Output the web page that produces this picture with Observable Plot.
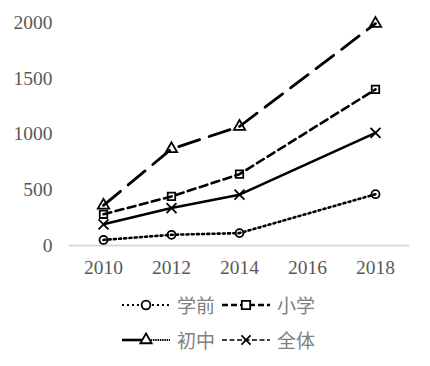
<!DOCTYPE html>
<html>
<head>
<meta charset="utf-8">
<script src="https://cdn.jsdelivr.net/npm/d3@7"></script>
<script src="https://cdn.jsdelivr.net/npm/@observablehq/plot@0.6"></script>
<style>
  body { margin: 0; background: #fff; width: 430px; height: 366px; overflow: hidden; }
  #legend { padding-left: 122px; padding-top: 2px; font-family: "Noto Sans CJK SC", sans-serif; font-size: 19px; color: #7f7f7f; }
  .row { display: flex; align-items: center; height: 35px; }
  .row svg { display: block; margin-right: 7px; }
  .row span { margin-right: 7px; line-height: 1; }
</style>
</head>
<body>
<div id="chart"></div>
<div id="legend"></div>
<script>
const years = [2010, 2012, 2014, 2018];
const xueqian = [50, 96, 111, 460];
const xiaoxue = [280, 440, 640, 1400];
const chuzhong = [360, 866, 1067, 1990];
const quanti = [190, 336, 456, 1010];
const seriesNames = ["学前", "小学", "初中", "全体"];
const xTicks = [2010, 2012, 2014, 2016, 2018];
const yTicks = [0, 500, 1000, 1500, 2000];

const seriesValues = [xueqian, xiaoxue, chuzhong, quanti];
const styles = {
  "学前": {dash: "2,3.2", width: 2.6, symbol: "circle", r: 4},
  "小学": {dash: "8,4.5", width: 2.6, symbol: "square", r: 4.2},
  "初中": {dash: "22,10", width: 2.8, symbol: "triangle", r: 4.2},
  "全体": {dash: null, width: 2.6, symbol: "times", r: 4.6}
};
const data = [];
seriesNames.forEach((name, i) => {
  years.forEach((yr, j) => data.push({series: name, year: yr, value: seriesValues[i][j]}));
});

const marks = [
  Plot.ruleY([0], {stroke: "#d9d9d9", strokeWidth: 2, x1: 2009, x2: 2019}),
  Plot.axisY({ticks: yTicks, tickSize: 0, tickPadding: 17, tickFormat: d => String(d),
    fontSize: 19.5, fill: "#595959", label: null}),
  Plot.axisX({ticks: xTicks, tickSize: 0, tickPadding: 15, tickFormat: d => String(d),
    fontSize: 19.5, fill: "#595959", label: null})
];
seriesNames.forEach(name => {
  const s = styles[name];
  const d = data.filter(o => o.series === name);
  marks.push(Plot.line(d, {x: "year", y: "value", stroke: "#000", strokeWidth: s.width,
    strokeDasharray: s.dash || undefined}));
  marks.push(Plot.dot(d, {x: "year", y: "value", symbol: () => s.symbol, r: s.r,
    stroke: "#000", strokeWidth: 1.8, fill: "none"}));
});

const chart = Plot.plot({
  width: 430,
  height: 285,
  marginLeft: 69,
  marginRight: 21,
  marginTop: 22,
  marginBottom: 40,
  style: {fontFamily: "'Liberation Serif', serif", background: "#fff"},
  x: {domain: [2009, 2019], axis: null},
  y: {domain: [0, 2000], axis: null},
  marks
});
document.getElementById("chart").appendChild(chart);

// legend (as drawn in the reference)
const legendSwatches = {
  "学前": {segs: [{dash: "2,3", w: 2.2}], symbol: d3.symbolCircle, size: 60},
  "小学": {segs: [{dash: "6,3", w: 2.6}], symbol: d3.symbolSquare, size: 70},
  "初中": {segs: [{dash: null, w: 2.6, half: "left"}, {dash: "1.5,0.8", w: 1.8, half: "right"}], symbol: d3.symbolTriangle, size: 55},
  "全体": {segs: [{dash: "5,2.5", w: 1.6}], symbol: d3.symbolTimes, size: 55}
};
const legend = d3.select("#legend");
[[0, 1], [2, 3]].forEach(idx => {
  const row = legend.append("div").attr("class", "row");
  idx.forEach(i => {
    const name = seriesNames[i];
    const sw = legendSwatches[name];
    const svg = row.append("svg").attr("width", 48).attr("height", 20);
    sw.segs.forEach(sg => {
      const x1 = sg.half === "right" ? 24 : 0;
      const x2 = sg.half === "left" ? 24 : 48;
      svg.append("line").attr("x1", x1).attr("x2", x2).attr("y1", 10).attr("y2", 10)
        .attr("stroke", "#000").attr("stroke-width", sg.w)
        .attr("stroke-dasharray", sg.dash);
    });
    svg.append("path").attr("transform", "translate(24,10)")
      .attr("d", d3.symbol(sw.symbol, sw.size)())
      .attr("fill", sw.symbol === d3.symbolTimes ? "none" : "#fff")
      .attr("stroke", "#000").attr("stroke-width", 1.8);
    row.append("span").text(name);
  });
});
</script>
</body>
</html>
